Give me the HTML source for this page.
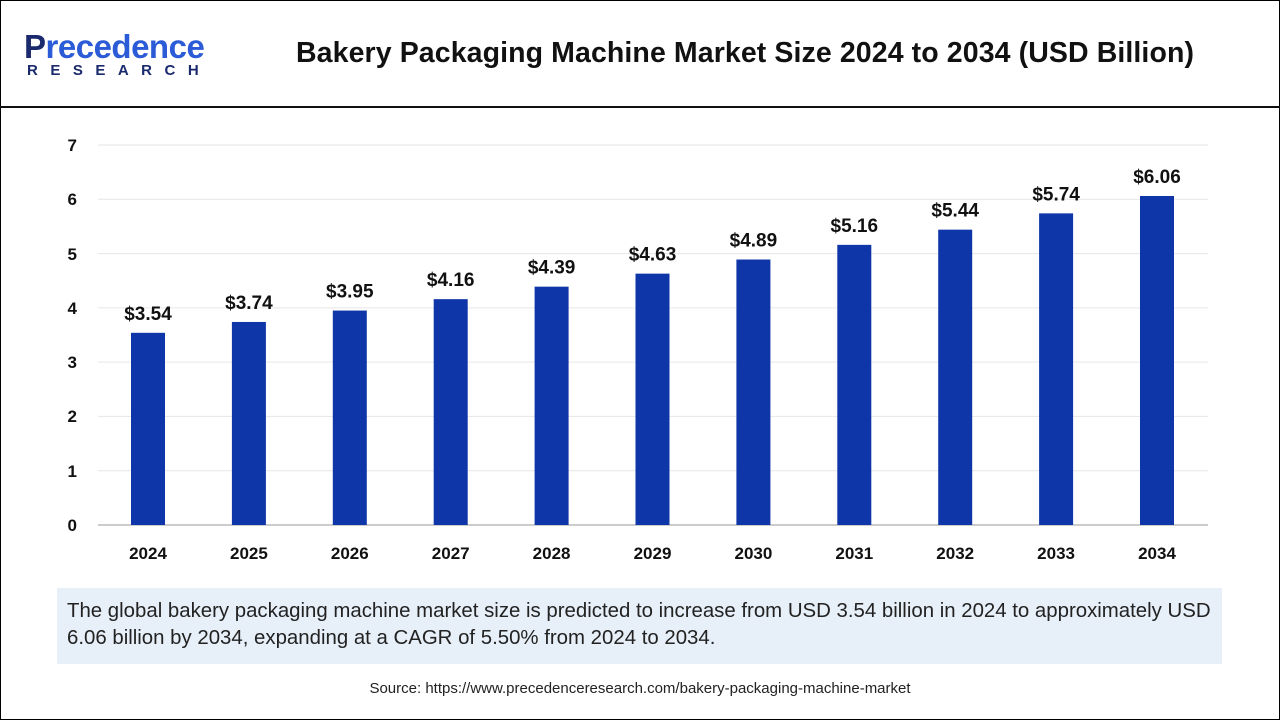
<!DOCTYPE html>
<html><head><style>
body{margin:0;width:1280px;height:720px;background:#fff;font-family:"Liberation Sans",sans-serif;position:relative;overflow:hidden}
.frame{position:absolute;left:0;top:0;width:1278px;height:718px;border:1px solid #000}
.hline{position:absolute;left:0;top:106px;width:1280px;height:2px;background:#111}
.title{position:absolute;left:296px;top:37px;font-size:28.5px;font-weight:bold;color:#111;letter-spacing:0.1px}
.logo1{position:absolute;left:24px;top:28px;font-size:33px;font-weight:bold;color:#1a2a6c;letter-spacing:-0.5px}
.logo1 span{color:#2b5bd6}
.logo2{position:absolute;left:27px;top:62px;font-size:15px;font-weight:bold;color:#1a2a6c;letter-spacing:12.5px}
.foot{position:absolute;left:57px;top:588px;width:1165px;height:76px;background:#e7eff8}
.foot p{margin:10px 6px 10px 10px;font-size:20.4px;line-height:27px;color:#222}
.src{position:absolute;left:0;width:1280px;top:680px;text-align:center;font-size:15px;color:#222}
</style></head><body>
<div class="frame"></div>
<div class="logo1">P<span>recedence</span></div>
<div class="logo2">RESEARCH</div>
<div class="title">Bakery Packaging Machine Market Size 2024 to 2034 (USD Billion)</div>
<div class="hline"></div>
<svg width="1280" height="720" style="position:absolute;left:0;top:0" font-family="Liberation Sans, sans-serif">
<g stroke="#e6e6e6" stroke-width="1">
<line x1="98" x2="1208" y1="145" y2="145"/><line x1="98" x2="1208" y1="199.3" y2="199.3"/>
<line x1="98" x2="1208" y1="253.6" y2="253.6"/><line x1="98" x2="1208" y1="307.9" y2="307.9"/>
<line x1="98" x2="1208" y1="362.1" y2="362.1"/><line x1="98" x2="1208" y1="416.4" y2="416.4"/>
<line x1="98" x2="1208" y1="470.7" y2="470.7"/></g>
<line x1="98" x2="1208" y1="525" y2="525" stroke="#bbb" stroke-width="1.5"/>
<g font-size="17" font-weight="bold" fill="#111" text-anchor="end">
<text x="77" y="531">0</text><text x="77" y="477">1</text><text x="77" y="422">2</text><text x="77" y="368">3</text>
<text x="77" y="314">4</text><text x="77" y="260">5</text><text x="77" y="205">6</text><text x="77" y="151">7</text></g>
<g id="bars" fill="#0f36a8"></g>
<g id="lab" font-size="19" font-weight="bold" fill="#111" text-anchor="middle"></g>
</svg>
<div class="foot"><p>The global bakery packaging machine market size is predicted to increase from USD 3.54 billion in 2024 to approximately USD 6.06 billion by 2034, expanding at a CAGR of 5.50% from 2024 to 2034.</p></div>
<div class="src">Source: https://www.precedenceresearch.com/bakery-packaging-machine-market</div>
<script>
var v=[3.54,3.74,3.95,4.16,4.39,4.63,4.89,5.16,5.44,5.74,6.06];
var b=document.getElementById('bars'),l=document.getElementById('lab'),ns="http://www.w3.org/2000/svg";
v.forEach(function(d,i){var cx=148+i*100.9,y=525-d*54.29;
var r=document.createElementNS(ns,'rect');r.setAttribute('x',cx-17);r.setAttribute('y',y);r.setAttribute('width',34);r.setAttribute('height',525-y);b.appendChild(r);
var t=document.createElementNS(ns,'text');t.setAttribute('x',cx);t.setAttribute('y',y-13);t.textContent='$'+d.toFixed(2);l.appendChild(t);
var t2=document.createElementNS(ns,'text');t2.setAttribute('x',cx);t2.setAttribute('y',559);t2.setAttribute('font-size','17');t2.textContent=2024+i;l.appendChild(t2);});
</script>
</body></html>
